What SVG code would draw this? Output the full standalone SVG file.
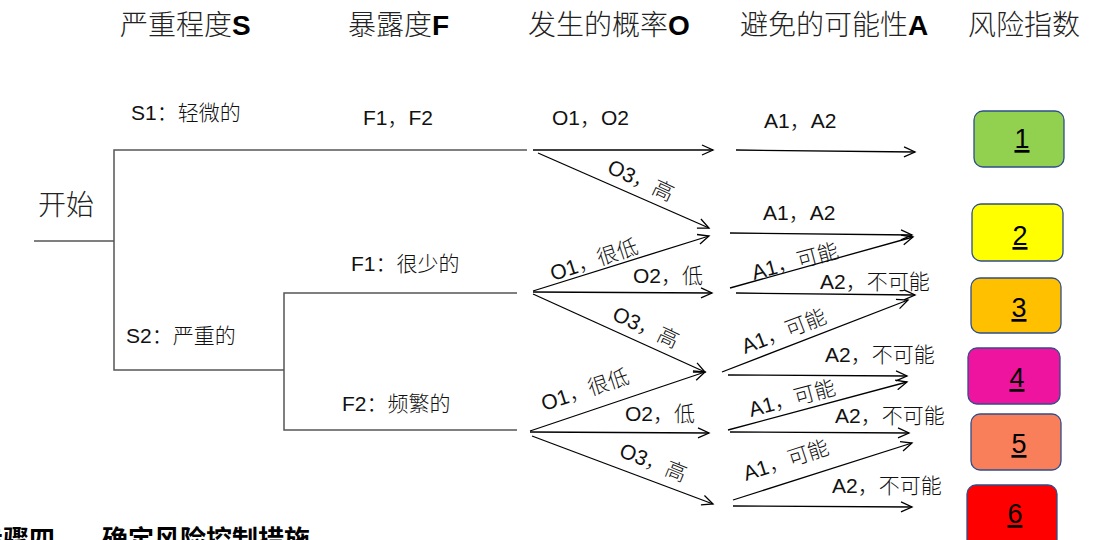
<svg xmlns="http://www.w3.org/2000/svg" width="1103" height="540" viewBox="0 0 1103 540">
<style>
.hd{font-family:"Noto Sans CJK SC","Liberation Sans",sans-serif;font-size:28px;fill:#222;font-weight:300}
.hd .b{font-family:"Liberation Sans","Noto Sans CJK SC",sans-serif;font-weight:bold;fill:#000}
.lb{font-family:"Liberation Sans","Noto Sans CJK SC",sans-serif;font-size:21px;fill:#111;font-weight:300}
.tree{fill:none;stroke:#555;stroke-width:1.5}
.arr{fill:none;stroke:#000;stroke-width:1.3;marker-end:url(#ah)}
.box{stroke:#2F4E8A;stroke-width:1.3}
.num{font-family:"Liberation Sans",Arial,sans-serif;font-size:27px;fill:#000;text-anchor:middle;text-decoration:underline}
.ft{font-family:"Noto Sans CJK SC",sans-serif;font-size:26px;font-weight:bold;fill:#000}
</style>
<defs>
<marker id="ah" markerWidth="14" markerHeight="12" refX="12" refY="6" orient="auto" markerUnits="userSpaceOnUse">
<path d="M1,1 L12,6 L1,11" fill="none" stroke="#000" stroke-width="1.3"/>
</marker>
</defs>

<g id="headers">
<text class="hd" x="120" y="35">严重程度<tspan class="b">S</tspan></text>
<text class="hd" x="348" y="35">暴露度<tspan class="b">F</tspan></text>
<text class="hd" x="528" y="35">发生的概率<tspan class="b">O</tspan></text>
<text class="hd" x="740" y="35">避免的可能性<tspan class="b">A</tspan></text>
<text class="hd" x="968" y="35">风险指数</text>
</g>

<g id="start"><text class="hd" x="38" y="215">开始</text></g>

<g id="connectors">
<polyline class="tree" points="34,241 114,241"/>
<polyline class="tree" points="527,150 114,150 114,370 284,370"/>
<polyline class="tree" points="517,293 284,293 284,430 517,430"/>

<line class="arr" x1="533" y1="150" x2="713" y2="150"/>
<line class="arr" x1="538" y1="153" x2="709" y2="228"/>
<line class="arr" x1="736" y1="150" x2="915" y2="152"/>

<line class="arr" x1="533" y1="291" x2="709" y2="236"/>
<line class="arr" x1="533" y1="292" x2="712" y2="293"/>
<line class="arr" x1="533" y1="294" x2="705" y2="372"/>

<line class="arr" x1="530" y1="431" x2="705" y2="372"/>
<line class="arr" x1="530" y1="432" x2="709" y2="433"/>
<line class="arr" x1="532" y1="436" x2="713" y2="504"/>

<line class="arr" x1="730" y1="233" x2="912" y2="235"/>
<line class="arr" x1="730" y1="288" x2="913" y2="237"/>
<line class="arr" x1="736" y1="293" x2="915" y2="295"/>
<line class="arr" x1="722" y1="372" x2="908" y2="300"/>
<line class="arr" x1="728" y1="375" x2="907" y2="376"/>
<line class="arr" x1="728" y1="430" x2="907" y2="382"/>
<line class="arr" x1="730" y1="432" x2="909" y2="433"/>
<line class="arr" x1="733" y1="500" x2="912" y2="443"/>
<line class="arr" x1="733" y1="506" x2="912" y2="507"/>
</g>

<g id="labels-s">
<text class="lb" x="131" y="120">S1：轻微的</text>
<text class="lb" x="126" y="343">S2：严重的</text>
</g>
<g id="labels-f">
<text class="lb" x="363" y="125">F1，F2</text>
<text class="lb" x="351" y="271">F1：很少的</text>
<text class="lb" x="342" y="411">F2：频繁的</text>
</g>
<g id="labels-o">
<text class="lb" x="552" y="125">O1，O2</text>
<text class="lb" x="606" y="172" transform="rotate(25 606 172)">O3，高</text>
<text class="lb" x="553" y="281" transform="rotate(-18 553 281)">O1，很低</text>
<text class="lb" x="633" y="283">O2，低</text>
<text class="lb" x="611" y="319" transform="rotate(25 611 319)">O3，高</text>
<text class="lb" x="544" y="411" transform="rotate(-18 544 411)">O1，很低</text>
<text class="lb" x="625" y="421">O2，低</text>
<text class="lb" x="618" y="456" transform="rotate(22 618 456)">O3，高</text>
</g>
<g id="labels-a">
<text class="lb" x="764" y="128">A1，A2</text>
<text class="lb" x="763" y="220">A1，A2</text>
<text class="lb" x="754" y="280" transform="rotate(-15 754 280)">A1，可能</text>
<text class="lb" x="820" y="289">A2，不可能</text>
<text class="lb" x="745" y="354" transform="rotate(-21 745 354)">A1，可能</text>
<text class="lb" x="825" y="362">A2，不可能</text>
<text class="lb" x="751" y="417" transform="rotate(-15 751 417)">A1，可能</text>
<text class="lb" x="835" y="423">A2，不可能</text>
<text class="lb" x="746" y="481" transform="rotate(-18 746 481)">A1，可能</text>
<text class="lb" x="832" y="493">A2，不可能</text>
</g>

<g id="risk1"><rect class="box" x="974" y="111" width="90" height="56" rx="9" fill="#92D050"/><text class="num" x="1022" y="148">1</text></g>
<g id="risk2"><rect class="box" x="972" y="204" width="91" height="57" rx="9" fill="#FFFF00"/><text class="num" x="1020" y="245">2</text></g>
<g id="risk3"><rect class="box" x="971" y="278" width="90" height="55" rx="9" fill="#FFC000"/><text class="num" x="1019" y="317">3</text></g>
<g id="risk4"><rect class="box" x="968" y="348" width="92" height="56" rx="9" fill="#EE14A0"/><text class="num" x="1017" y="387">4</text></g>
<g id="risk5"><rect class="box" x="971" y="414" width="90" height="56" rx="9" fill="#F97E5A"/><text class="num" x="1019" y="453">5</text></g>
<g id="risk6"><rect class="box" x="967" y="485" width="90" height="70" rx="9" fill="#FF0000"/><text class="num" x="1015" y="523">6</text></g>

<g id="footer">
<text class="ft" x="55" y="549" text-anchor="end">步骤四</text>
<text class="ft" x="102" y="549">确定风险控制措施</text>
</g>
</svg>
